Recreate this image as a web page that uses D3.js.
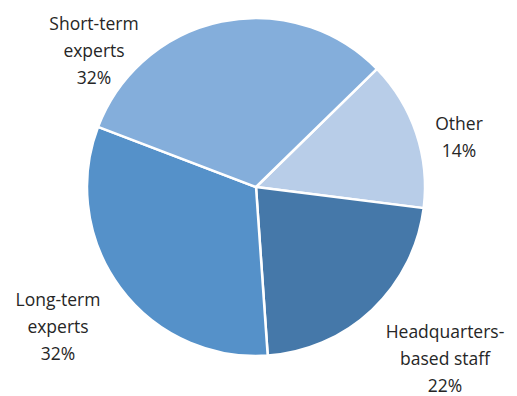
<!DOCTYPE html>
<html><head><meta charset="utf-8">
<script src="https://cdn.jsdelivr.net/npm/d3@7"></script>
<style>body{margin:0;background:#fff}svg{display:block}</style>
</head><body>
<script>
const categories = ["Other", "Headquarters-based staff", "Long-term experts", "Short-term experts"];
const values = [14.3, 21.9, 31.9, 31.9];
const labelLines = [["Other","14%"],["Headquarters-","based staff","22%"],["Long-term","experts","32%"],["Short-term","experts","32%"]];
const colors = ["#b8cde8", "#4578a9", "#5591c9", "#84aedb"];
const labelPos = [[459,124],[445,332],[58,300],[94,24]];

const W=517,H=396, cx=256, cy=187, r=169;
const svg=d3.select("body").append("svg").attr("width",W).attr("height",H);
const startDeg=45.7;
const pie=d3.pie().sort(null).value(d=>d).startAngle(startDeg*Math.PI/180).endAngle((startDeg+360)*Math.PI/180);
const arc=d3.arc().innerRadius(0).outerRadius(r);
const g=svg.append("g").attr("transform",`translate(${cx},${cy})`);
g.selectAll("path").data(pie(values)).join("path")
  .attr("d",arc).attr("fill",(d,i)=>colors[i]).attr("stroke","#fff").attr("stroke-width",2.5).attr("stroke-linejoin","round");
const lg=svg.append("g").attr("font-family","'Open Sans', 'Noto Sans', sans-serif").attr("font-size",17.5).attr("fill","#262626");
labelLines.forEach((lines,i)=>{
  const t=lg.append("text").attr("text-anchor","middle");
  lines.forEach((s,j)=>{
    t.append("tspan").attr("x",labelPos[i][0]).attr("y",labelPos[i][1]+j*27).attr("dy","0.35em").text(s);
  });
});
</script>
</body></html>
